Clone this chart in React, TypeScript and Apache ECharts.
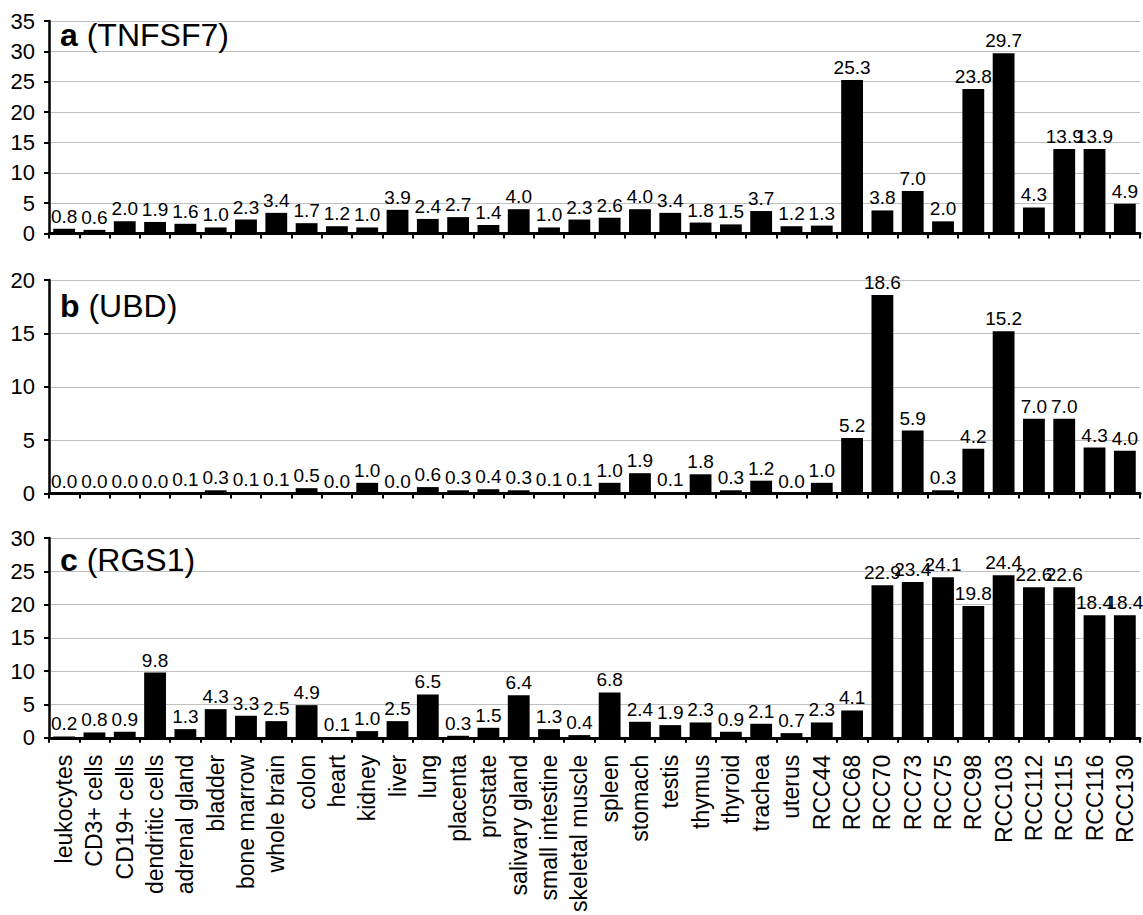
import React, { useEffect, useRef } from "react";
import * as echarts from "echarts";

const categories = [
  "leukocytes", "CD3+ cells", "CD19+ cells", "dendritic cells", "adrenal gland", "bladder",
  "bone marrow", "whole brain", "colon", "heart", "kidney", "liver", "lung", "placenta",
  "prostate", "salivary gland", "small intestine", "skeletal muscle", "spleen", "stomach",
  "testis", "thymus", "thyroid", "trachea", "uterus", "RCC44", "RCC68", "RCC70", "RCC73",
  "RCC75", "RCC98", "RCC103", "RCC112", "RCC115", "RCC116", "RCC130",
];

const tnfsf7 = [
  0.8, 0.6, 2.0, 1.9, 1.6, 1.0, 2.3, 3.4, 1.7, 1.2, 1.0, 3.9, 2.4, 2.7, 1.4, 4.0, 1.0, 2.3,
  2.6, 4.0, 3.4, 1.8, 1.5, 3.7, 1.2, 1.3, 25.3, 3.8, 7.0, 2.0, 23.8, 29.7, 4.3, 13.9, 13.9, 4.9,
];

const ubd = [
  0.0, 0.0, 0.0, 0.0, 0.1, 0.3, 0.1, 0.1, 0.5, 0.0, 1.0, 0.0, 0.6, 0.3, 0.4, 0.3, 0.1, 0.1,
  1.0, 1.9, 0.1, 1.8, 0.3, 1.2, 0.0, 1.0, 5.2, 18.6, 5.9, 0.3, 4.2, 15.2, 7.0, 7.0, 4.3, 4.0,
];

const rgs1 = [
  0.2, 0.8, 0.9, 9.8, 1.3, 4.3, 3.3, 2.5, 4.9, 0.1, 1.0, 2.5, 6.5, 0.3, 1.5, 6.4, 1.3, 0.4,
  6.8, 2.4, 1.9, 2.3, 0.9, 2.1, 0.7, 2.3, 4.1, 22.9, 23.4, 24.1, 19.8, 24.4, 22.6, 22.6, 18.4, 18.4,
];

const panelLetters = ["a", "b", "c"];
const panelGenes = ["(TNFSF7)", "(UBD)", "(RGS1)"];
const panelMax = [35, 20, 30];
const yInterval = 5;

const FONT = "'Liberation Sans', Arial, sans-serif";

export default function App() {
  const ref = useRef<HTMLDivElement>(null);

  useEffect(() => {
    if (!ref.current) return;
    const chart = echarts.init(ref.current, null, { renderer: "svg" });
    const seriesData = [tnfsf7, ubd, rgs1];
    const grids = [
      { left: 49, right: 3, top: 21, height: 212.5 },
      { left: 49, right: 3, top: 280, height: 213.5 },
      { left: 49, right: 3, top: 538, height: 209.5 },
    ];
    const titleTops = [19, 290, 544];

    const option: any = {
      animation: false,
      backgroundColor: "#ffffff",
      textStyle: { fontFamily: FONT },
      title: panelLetters.map((l, i) => ({
        text: `{b|${l}} ${panelGenes[i]}`,
        left: 60,
        top: titleTops[i],
        padding: 0,
        textStyle: {
          fontFamily: FONT,
          fontSize: 32,
          fontWeight: "normal",
          color: "#000",
          rich: {
            b: { fontFamily: FONT, fontSize: 32, fontWeight: "bold", color: "#000" },
          },
        },
      })),
      grid: grids,
      xAxis: grids.map((_, i) => ({
        type: "category",
        gridIndex: i,
        data: categories,
        boundaryGap: true,
        axisLine: { show: true, lineStyle: { color: "#000", width: 3 } },
        axisTick: { show: true, length: 5, interval: 0, lineStyle: { color: "#000", width: 2 } },
        axisLabel: {
          show: i === 2,
          interval: 0,
          rotate: 90,
          margin: 17,
          fontSize: 23,
          fontFamily: FONT,
          color: "#000",
        },
        splitLine: { show: false },
      })),
      yAxis: grids.map((_, i) => ({
        type: "value",
        gridIndex: i,
        min: 0,
        max: panelMax[i],
        interval: yInterval,
        axisLine: { show: true, lineStyle: { color: "#000", width: 2.5 } },
        axisTick: { show: true, length: 5, lineStyle: { color: "#000", width: 2 } },
        axisLabel: { fontSize: 22, fontFamily: FONT, color: "#000", margin: 14 },
        splitLine: { show: true, lineStyle: { color: "#c0c0c0", width: 1 } },
      })),
      series: seriesData.map((d, i) => ({
        type: "bar",
        xAxisIndex: i,
        yAxisIndex: i,
        data: d,
        barCategoryGap: "28%",
        itemStyle: { color: "#000" },
        label: {
          show: true,
          position: "top",
          distance: 3,
          fontSize: 19,
          fontFamily: FONT,
          color: "#000",
          formatter: (p: any) => Number(p.value).toFixed(1),
        },
      })),
    };
    chart.setOption(option);
    return () => chart.dispose();
  }, []);

  return (
    <div
      ref={ref}
      style={{ position: "fixed", left: 0, top: 0, width: 1143, height: 915, background: "#fff" }}
    />
  );
}
